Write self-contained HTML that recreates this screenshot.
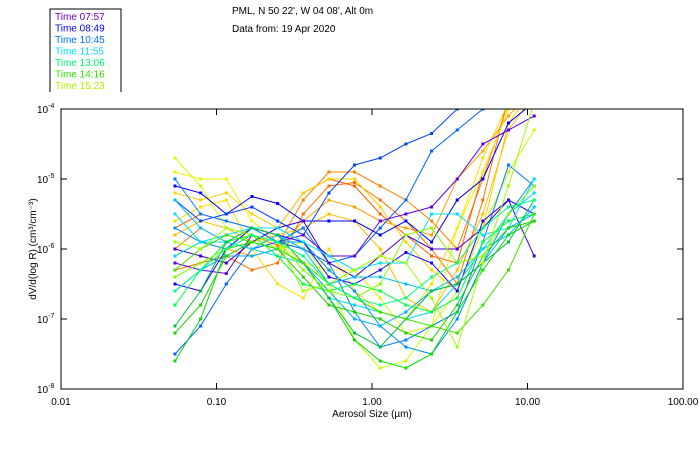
<!DOCTYPE html>
<html><head><meta charset="utf-8">
<style>
body{margin:0;background:#fff;width:700px;height:450px;overflow:hidden;font-family:"Liberation Sans",sans-serif}
svg{display:block}
text{font-family:"Liberation Sans",sans-serif;font-size:10px}
</style></head>
<body>
<svg id="chart" width="700" height="450">
  <g>
    <polyline points="50,92 50,9 121,9 121,92" fill="none" stroke="#000" stroke-width="1"/>
    <g id="legend-items"></g>
  </g>
  <text x="232" y="14">PML, N 50 22', W 04 08', Alt 0m</text>
  <text x="232" y="32">Data from: 19 Apr 2020</text>
  <defs><clipPath id="plotclip"><rect x="61" y="109" width="622" height="280"/></clipPath></defs>
  <g id="series" clip-path="url(#plotclip)"></g>
  <rect x="61" y="109" width="622" height="280" fill="none" stroke="#000" stroke-width="1"/>
  <g id="axes"></g>
  <text x="372" y="417" text-anchor="middle">Aerosol Size (µm)</text>
  <text transform="translate(36,249) rotate(-90)" text-anchor="middle">dV/d(log R) (cm³/cm⁻³)</text>
</svg>
<script>
const legendLabels=["Time 07:57","Time 08:49","Time 10:45","Time 11:55","Time 13:06","Time 14:16","Time 15:23"];
const legendColors=["#7000c0","#0000ff","#0070ff","#00e0ff","#00f070","#30e000","#b0f000"];
const xTickValues=[0.01,0.1,1,10,100];
const xTickLabels=["0.01","0.10","1.00","10.00","100.00"];
const yTickExps=[-4,-5,-6,-7,-8];
const binLogStart=-1.267, binLogStep=0.165, binCount=15;
const seriesColors=["#ff8000","#ff6000","#ffa000","#ff7000","#ffe000","#ffd000","#f0f000","#ffc000","#c8ff00",
"#0000ff","#0040ff","#0060ff","#0080ff","#0090ff","#6000e0","#4000d0","#2000ff",
"#00e0ff","#00c0ff","#00d8f0","#00b0ff",
"#00e000","#00ff40","#20d000","#00c040","#80ff00","#40e000","#a0ff00","#00ff80"];
const seriesValues=[
[-6.0,-5.7,-5.9,-5.8,-5.95,-5.3,-4.9,-4.9,-5.1,-5.3,-5.6,-6.0,-5.0,-3.9,-3.5],
[-5.7,-5.5,-5.6,-5.7,-5.7,-5.2,-5.0,-5.1,-5.5,-5.8,-6.1,-6.2,-4.9,-4.0,-3.6],
[-6.1,-5.9,-6.0,-6.1,-6.0,-5.6,-5.3,-5.4,-5.6,-5.7,-5.8,-5.0,-4.6,-4.1,-3.7],
[-6.3,-6.2,-6.1,-6.3,-6.2,-5.5,-5.1,-5.05,-5.3,-5.6,-6.0,-6.5,-5.3,-3.8,-3.5],
[-5.6,-5.4,-5.3,-6.0,-6.5,-6.7,-6.0,-6.6,-6.9,-7.0,-6.5,-5.7,-4.7,-3.9,-3.5],
[-5.2,-5.3,-5.2,-5.5,-5.7,-5.2,-5.0,-5.0,-5.4,-5.9,-6.3,-6.6,-5.7,-4.2,-3.7],
[-4.9,-5.0,-5.0,-5.6,-5.9,-6.2,-6.3,-6.3,-6.7,-7.2,-7.1,-5.7,-4.9,-4.0,-3.6],
[-5.8,-5.6,-5.7,-5.9,-5.8,-5.7,-5.5,-5.6,-6.0,-6.7,-6.9,-6.3,-5.5,-4.3,-3.8],
[-4.7,-5.1,-5.7,-5.8,-6.0,-5.9,-6.5,-7.3,-7.7,-7.6,-7.1,-6.6,-5.7,-4.9,-4.3],
[-5.1,-5.2,-5.5,-5.25,-5.35,-5.6,-5.6,-5.6,-5.8,-5.6,-5.9,-5.3,-5.0,-4.2,-3.9],
[-5.3,-5.6,-5.5,-5.4,-5.6,-5.8,-5.2,-4.8,-4.7,-4.5,-4.35,-4.0,-3.8,-3.7,-3.8],
[-7.5,-7.1,-6.5,-6.0,-5.9,-6.0,-6.2,-6.1,-5.7,-5.3,-4.6,-4.3,-4.0,-3.9,-3.7],
[-5.0,-5.5,-5.6,-5.7,-5.9,-5.7,-6.2,-6.9,-7.4,-7.3,-7.1,-6.9,-5.9,-4.8,-5.1],
[-5.7,-5.9,-6.0,-5.7,-5.9,-5.9,-6.3,-6.6,-7.1,-7.4,-7.5,-7.0,-6.2,-5.5,-5.0],
[-6.2,-6.3,-6.35,-5.8,-5.9,-5.8,-6.1,-6.1,-5.6,-5.5,-5.4,-5.0,-4.5,-4.3,-4.1],
[-6.0,-6.1,-6.2,-5.9,-5.7,-5.6,-6.2,-6.4,-6.1,-5.8,-6.0,-6.0,-5.7,-5.3,-6.1],
[-6.5,-6.6,-6.0,-5.7,-5.8,-5.9,-6.4,-6.5,-6.3,-6.05,-6.2,-6.6,-5.6,-5.3,-5.5],
[-5.5,-5.9,-5.8,-5.7,-5.7,-5.9,-6.1,-6.3,-6.2,-6.2,-5.5,-5.5,-5.8,-5.7,-5.0],
[-5.3,-5.7,-5.9,-6.0,-5.8,-6.0,-6.5,-6.4,-6.4,-6.5,-6.6,-6.4,-6.0,-5.8,-5.4],
[-6.1,-5.9,-5.9,-6.0,-6.1,-6.2,-6.7,-6.8,-6.9,-7.0,-6.9,-6.5,-6.0,-5.5,-5.2],
[-6.6,-6.3,-6.1,-6.1,-6.0,-6.2,-6.6,-7.0,-7.1,-6.9,-6.6,-6.5,-6.2,-5.7,-5.5],
[-7.6,-7.0,-6.0,-5.9,-6.0,-6.2,-6.7,-7.3,-7.6,-7.7,-7.5,-6.9,-6.3,-5.8,-5.6],
[-6.8,-6.3,-5.9,-5.8,-6.1,-6.5,-6.6,-6.5,-6.6,-6.8,-6.9,-6.7,-5.9,-5.6,-5.5],
[-7.2,-6.8,-6.1,-5.9,-6.0,-6.4,-6.8,-6.9,-7.0,-7.2,-7.3,-6.8,-6.1,-5.7,-5.6],
[-7.1,-6.6,-5.9,-5.7,-5.8,-6.2,-6.7,-7.2,-7.4,-7.0,-6.6,-6.5,-6.2,-5.9,-5.3],
[-6.4,-6.2,-6.0,-5.8,-5.9,-6.3,-6.6,-6.7,-6.5,-5.8,-5.7,-6.2,-6.1,-5.5,-5.1],
[-6.3,-6.0,-5.8,-5.9,-6.0,-6.2,-6.5,-6.7,-6.9,-7.0,-7.1,-7.2,-6.8,-6.3,-5.5],
[-5.9,-6.0,-5.7,-5.8,-5.9,-6.6,-6.5,-6.3,-6.1,-6.2,-6.7,-7.4,-6.2,-5.1,-3.9],
[-6.6,-6.3,-6.0,-5.8,-5.9,-6.1,-6.5,-6.7,-6.8,-6.7,-6.4,-6.2,-5.7,-5.4,-5.3]
];
const NS="http://www.w3.org/2000/svg";
const X0=61,XD=155.5,Y0=109,YD=70;
function xScale(v){return X0+(Math.log10(v)+2)*XD;}
function xScaleLog(l){return X0+(l+2)*XD;}
function yScaleLog(l){return Y0+(-4-l)*YD;}
function mk(tag,attrs){const e=document.createElementNS(NS,tag);for(const k in attrs)e.setAttribute(k,attrs[k]);return e;}
const axes=document.getElementById('axes');
xTickValues.forEach((v,i)=>{
  const x=xScale(v);
  const t1=mk('line',{x1:x,y1:389,x2:x,y2:383,stroke:'#000'});
  
  
  axes.appendChild(t1);
  const t2=mk('line',{x1:x,y1:109,x2:x,y2:115,stroke:'#000'});
  
  
  axes.appendChild(t2);
  const tx=mk('text',{x:x,y:405,'text-anchor':'middle'});
  tx.textContent=xTickLabels[i];
  
  
  axes.appendChild(tx);
});
yTickExps.forEach(e=>{
  const y=yScaleLog(e);
  const t1=mk('line',{x1:61,y1:y,x2:67,y2:y,stroke:'#000'});
  
  
  axes.appendChild(t1);
  const t2=mk('line',{x1:683,y1:y,x2:677,y2:y,stroke:'#000'});
  
  
  axes.appendChild(t2);
  const tx=mk('text',{x:37,y:y+4});
  tx.innerHTML='10<tspan dy="-5" font-size="7">'+e+'</tspan>';
  
  
  axes.appendChild(tx);
});
const sg=document.getElementById('series');
seriesValues.forEach((vals,si)=>{
  const g=mk('g',{});
  
  
  const col=seriesColors[si];
  const pts=[];
  vals.forEach((v,i)=>{
    if(v===null)return;
    const x=xScaleLog(binLogStart+i*binLogStep), y=yScaleLog(v);
    pts.push(x.toFixed(1)+','+y.toFixed(1));
  });
  const pl=mk('polyline',{points:pts.join(' '),fill:'none',stroke:col,'stroke-width':1});
  g.appendChild(pl);
  vals.forEach((v,i)=>{
    if(v===null)return;
    const x=xScaleLog(binLogStart+i*binLogStep), y=yScaleLog(v);
    const r=mk('rect',{x:x-1.5,y:y-1.5,width:3,height:3,fill:col});
    
    
    g.appendChild(r);
  });
  sg.appendChild(g);
});
const li=document.getElementById('legend-items');
legendLabels.forEach((l,i)=>{
  const t=mk('text',{x:55,y:20+i*11.5,fill:legendColors[i]});
  t.textContent=l;
  
  
  li.appendChild(t);
});
</script>
</body></html>
